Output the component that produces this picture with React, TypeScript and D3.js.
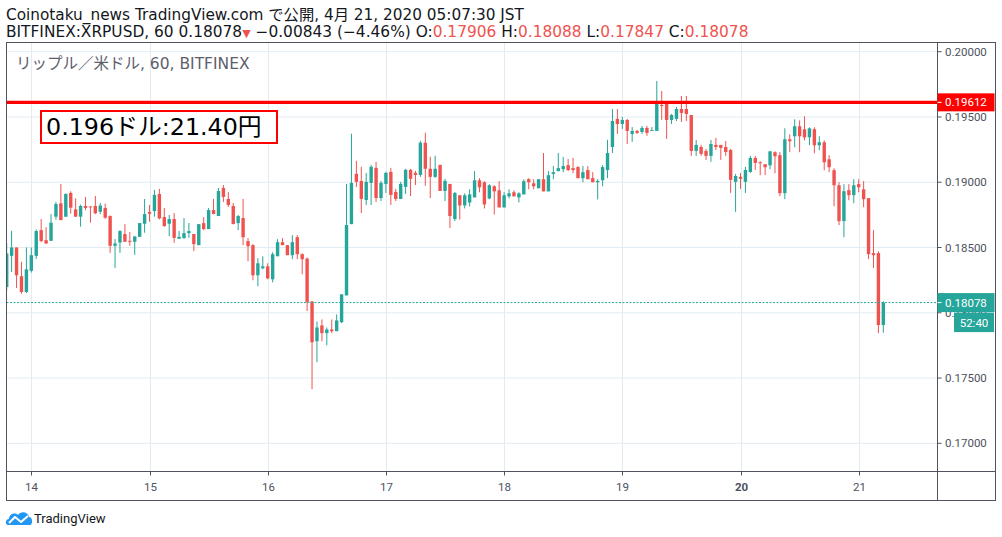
import * as d3 from "d3";

// hourly candles, first one at 2020-04-13 19:00, last at 04-21 05:00
const START = Date.UTC(2020, 3, 13, 19);
// [open, high, low, close]
const CANDLES: [number, number, number, number][] = [
  [0.18197, 0.18533, 0.18167, 0.18454], [0.18436, 0.18628, 0.18313, 0.185], [0.185, 0.185, 0.1819, 0.18287],
  [0.1828, 0.1839, 0.18146, 0.18159], [0.18159, 0.185, 0.18151, 0.18333], [0.18321, 0.185, 0.18308, 0.18441],
  [0.18436, 0.18638, 0.18413, 0.18626], [0.18633, 0.18718, 0.18541, 0.18549], [0.18556, 0.18656, 0.18526, 0.18531],
  [0.18551, 0.18756, 0.18551, 0.1869], [0.18736, 0.18849, 0.18713, 0.18833], [0.18838, 0.18987, 0.1871, 0.1871],
  [0.18736, 0.18915, 0.18736, 0.1891], [0.18918, 0.18931, 0.18759, 0.18805], [0.18792, 0.18877, 0.18736, 0.18736],
  [0.18736, 0.18828, 0.18659, 0.18818], [0.18818, 0.18887, 0.18787, 0.18803], [0.18815, 0.18815, 0.1869, 0.1881],
  [0.18818, 0.18895, 0.18756, 0.18762], [0.18774, 0.18841, 0.18756, 0.18821], [0.18803, 0.18836, 0.1872, 0.18728],
  [0.18741, 0.18746, 0.18459, 0.18513], [0.18513, 0.18564, 0.18344, 0.18531], [0.18538, 0.18633, 0.18459, 0.18626],
  [0.18603, 0.18679, 0.18544, 0.18544], [0.18551, 0.18618, 0.18513, 0.18544], [0.18544, 0.18585, 0.18444, 0.18585],
  [0.18582, 0.18687, 0.18582, 0.18687], [0.18682, 0.18872, 0.18613, 0.18756], [0.18772, 0.18826, 0.18697, 0.18759],
  [0.18779, 0.18941, 0.18736, 0.18903], [0.1891, 0.18949, 0.18715, 0.18723], [0.18733, 0.18803, 0.18659, 0.18664],
  [0.18682, 0.18749, 0.18587, 0.18718], [0.18718, 0.18764, 0.18536, 0.18574], [0.18567, 0.18626, 0.18567, 0.18582],
  [0.18572, 0.18726, 0.18567, 0.1861], [0.1861, 0.18687, 0.18574, 0.18626], [0.18603, 0.18603, 0.18472, 0.18526],
  [0.18518, 0.18679, 0.18518, 0.18679], [0.18687, 0.18733, 0.18633, 0.18641], [0.18641, 0.18803, 0.18641, 0.18787],
  [0.18787, 0.18872, 0.18756, 0.18756], [0.18741, 0.18956, 0.18741, 0.18933], [0.18956, 0.18979, 0.18849, 0.18887],
  [0.18872, 0.18926, 0.1881, 0.18826], [0.18818, 0.18841, 0.18679, 0.18679], [0.18687, 0.18749, 0.18633, 0.18741],
  [0.18726, 0.18872, 0.18518, 0.18579], [0.18549, 0.18572, 0.18395, 0.1851], [0.18518, 0.18526, 0.18249, 0.18287],
  [0.18287, 0.18418, 0.18203, 0.18379], [0.18341, 0.18433, 0.18333, 0.18356], [0.18356, 0.18379, 0.18256, 0.18264],
  [0.18256, 0.18464, 0.18233, 0.18449], [0.18433, 0.18564, 0.18433, 0.18541], [0.18541, 0.18572, 0.18518, 0.18518],
  [0.18518, 0.18518, 0.18441, 0.18441], [0.18441, 0.18595, 0.1841, 0.18541], [0.18579, 0.18595, 0.1841, 0.18449],
  [0.18449, 0.18456, 0.18295, 0.1841], [0.18415, 0.18423, 0.18013, 0.18082], [0.18087, 0.18087, 0.17415, 0.17774],
  [0.17782, 0.17933, 0.17621, 0.17887], [0.17903, 0.17949, 0.17782, 0.17844], [0.17844, 0.17887, 0.17751, 0.17872],
  [0.17872, 0.17949, 0.17844, 0.17859], [0.17859, 0.17987, 0.17859, 0.17941], [0.17928, 0.18141, 0.17921, 0.18141],
  [0.18133, 0.18987, 0.18133, 0.18672], [0.18679, 0.19372, 0.18679, 0.18995], [0.19064, 0.19164, 0.18964, 0.19003],
  [0.1901, 0.19118, 0.18764, 0.18872], [0.18864, 0.19072, 0.18826, 0.19003], [0.18995, 0.19133, 0.18826, 0.19118],
  [0.1911, 0.19156, 0.18849, 0.18879], [0.18879, 0.1901, 0.18856, 0.18995], [0.18987, 0.19079, 0.18918, 0.19072],
  [0.19079, 0.1911, 0.18826, 0.18903], [0.18926, 0.18949, 0.18856, 0.18872], [0.18872, 0.19003, 0.18872, 0.18987],
  [0.18964, 0.19102, 0.1891, 0.19095], [0.19095, 0.19102, 0.18895, 0.19026], [0.19072, 0.19087, 0.18979, 0.19056],
  [0.19056, 0.19318, 0.19041, 0.19303], [0.19303, 0.19379, 0.18972, 0.19103], [0.19103, 0.19195, 0.18879, 0.19041],
  [0.19041, 0.19203, 0.19033, 0.19103], [0.19133, 0.19133, 0.18933, 0.18933], [0.18933, 0.19026, 0.18856, 0.1901],
  [0.18987, 0.18987, 0.18649, 0.18741], [0.18718, 0.18926, 0.18703, 0.18918], [0.189, 0.189, 0.18714, 0.18822],
  [0.18822, 0.18915, 0.18799, 0.189], [0.18845, 0.18946, 0.18814, 0.18907], [0.18884, 0.19085, 0.18884, 0.19015],
  [0.19015, 0.19031, 0.18923, 0.18961], [0.19, 0.19008, 0.18799, 0.1883], [0.18876, 0.18985, 0.18869, 0.18977],
  [0.18969, 0.18977, 0.18753, 0.1893], [0.18938, 0.19008, 0.18807, 0.18807], [0.18807, 0.18923, 0.18807, 0.189],
  [0.18892, 0.18946, 0.18876, 0.18915], [0.18923, 0.18938, 0.18892, 0.18892], [0.18884, 0.18923, 0.18845, 0.18915],
  [0.18907, 0.19023, 0.18907, 0.19008], [0.19023, 0.19031, 0.18946, 0.19], [0.18992, 0.19023, 0.18946, 0.18969],
  [0.18954, 0.19023, 0.18954, 0.19023], [0.19023, 0.19224, 0.1893, 0.1893], [0.1893, 0.19085, 0.1893, 0.19054],
  [0.19064, 0.19124, 0.19023, 0.19077], [0.19085, 0.19224, 0.19085, 0.19108], [0.191, 0.19193, 0.19077, 0.19124],
  [0.19131, 0.19178, 0.19085, 0.19093], [0.19108, 0.19186, 0.1907, 0.19093], [0.19116, 0.19124, 0.19031, 0.19031],
  [0.19031, 0.19124, 0.19, 0.19077], [0.19093, 0.19124, 0.19023, 0.19023], [0.19031, 0.19077, 0.19, 0.19],
  [0.19, 0.19023, 0.18869, 0.1901], [0.19015, 0.19131, 0.18969, 0.19116], [0.19093, 0.19325, 0.19031, 0.19224],
  [0.1927, 0.19561, 0.19224, 0.19469], [0.19485, 0.19561, 0.1937, 0.19446], [0.19446, 0.195, 0.19408, 0.19477],
  [0.19477, 0.19485, 0.19293, 0.19393], [0.1937, 0.19423, 0.19309, 0.19393], [0.19393, 0.19401, 0.1937, 0.19378],
  [0.19385, 0.19431, 0.1937, 0.19416], [0.19416, 0.19431, 0.19355, 0.19378], [0.19393, 0.19423, 0.19393, 0.194],
  [0.19393, 0.19776, 0.19393, 0.196], [0.19592, 0.19699, 0.19477, 0.19584], [0.196, 0.196, 0.19332, 0.19477],
  [0.19477, 0.19523, 0.19446, 0.19515], [0.19485, 0.19577, 0.19469, 0.19561], [0.19561, 0.19661, 0.19462, 0.19531],
  [0.19561, 0.19661, 0.19469, 0.19523], [0.19515, 0.19515, 0.19202, 0.1924], [0.1924, 0.19324, 0.19202, 0.19286],
  [0.1927, 0.19286, 0.19202, 0.19217], [0.1924, 0.19255, 0.19171, 0.19202], [0.19202, 0.19324, 0.19156, 0.19293],
  [0.19286, 0.19339, 0.19247, 0.1927], [0.19286, 0.19286, 0.19171, 0.19263], [0.1927, 0.19316, 0.19202, 0.19232],
  [0.19247, 0.19255, 0.18918, 0.19018], [0.19003, 0.19064, 0.18773, 0.19048], [0.19041, 0.19071, 0.18949, 0.19026],
  [0.19003, 0.19117, 0.18918, 0.19094], [0.19079, 0.19202, 0.19071, 0.19186], [0.19186, 0.19202, 0.19094, 0.19148],
  [0.19153, 0.19161, 0.19054, 0.19145], [0.19138, 0.19138, 0.19054, 0.19115], [0.1913, 0.19237, 0.19099, 0.19237],
  [0.1923, 0.19237, 0.19069, 0.19199], [0.19207, 0.1923, 0.18893, 0.18916], [0.18916, 0.19413, 0.1887, 0.19329],
  [0.19329, 0.19367, 0.1923, 0.19314], [0.19352, 0.19482, 0.19268, 0.19429], [0.19429, 0.19474, 0.1923, 0.19352],
  [0.19406, 0.19505, 0.19321, 0.19344], [0.19344, 0.19421, 0.19283, 0.19413], [0.19406, 0.19421, 0.19222, 0.19283],
  [0.19283, 0.19352, 0.19245, 0.19306], [0.19306, 0.19321, 0.19092, 0.19153], [0.19176, 0.19207, 0.19077, 0.19115],
  [0.19092, 0.19107, 0.18816, 0.18977], [0.18977, 0.19, 0.18671, 0.18702], [0.18702, 0.18985, 0.18579, 0.18931],
  [0.18939, 0.18985, 0.18862, 0.18901], [0.18901, 0.19023, 0.18839, 0.18977], [0.18985, 0.19023, 0.18923, 0.18962],
  [0.18946, 0.19008, 0.18809, 0.1887], [0.18878, 0.18878, 0.18411, 0.18449], [0.18457, 0.18633, 0.18342, 0.18441],
  [0.18457, 0.18472, 0.17844, 0.17906], [0.17906, 0.18088, 0.17847, 0.18078],
];

const PRICE_TICKS = [0.17, 0.175, 0.18, 0.185, 0.19, 0.195, 0.2];
const DAYS = [14, 15, 16, 17, 18, 19, 20, 21];
const LINE_PRICE = 0.19612;
const LAST_PRICE = 0.18078;
const COUNTDOWN = "52:40";
const NOTE = "0.196ドル:21.40円";

const UP = "#26a69a";
const DOWN = "#ef5350";
const GRID = "#e1ecf2";
const FRAME = "#50535e";
const TXT = "#4c525e";
const HOUR = 3600 * 1000;

const L = 6.5, R = 937.5, T = 42.5, B = 471.5, RIGHT_EDGE = 995.5, BOTTOM = 500.5;
const AX_FONT = "Roboto, 'Liberation Sans', sans-serif";
const HEAD_FONT = "'DejaVu Sans', 'Noto Sans CJK JP', sans-serif";

export default function App() {
  const x = d3.scaleUtc().domain([START, START + 189 * HOUR]).range([6.7, 937.5]);
  const y = d3.scaleLinear().domain([0.17, 0.2]).range([443.3, 51.7]);
  const fmt = d3.format(".5f");
  const bw = 3.4;

  return (
    <svg width={1002} height={537} style={{ position: "absolute", left: 0, top: 0, background: "#fff" }}>
      <defs>
        <clipPath id="plot">
          <rect x={L} y={T} width={R - L} height={B - T} />
        </clipPath>
      </defs>

      {/* header */}
      <text x={6} y={20} fontFamily={HEAD_FONT} fontSize={15.3} fill="#131722">
        Coinotaku_news TradingView.com で公開, 4月 21, 2020 05:07:30 JST
      </text>
      <text x={6} y={36.5} fontFamily={HEAD_FONT} fontSize={15.4} fill="#131722">
        BITFINEX:XRPUSD, 60 0.18078<tspan fill={DOWN} fontSize={11}>▼</tspan> −0.00843 (−4.46%) O:
        <tspan fill={DOWN}>0.17906</tspan> H:<tspan fill={DOWN}>0.18088</tspan> L:
        <tspan fill={DOWN}>0.17847</tspan> C:<tspan fill={DOWN}>0.18078</tspan>
      </text>

      {/* grid */}
      <g clipPath="url(#plot)">
        {PRICE_TICKS.map(p => (
          <line key={p} x1={L} x2={R} y1={y(p)} y2={y(p)} stroke={GRID} />
        ))}
        {DAYS.map(d => {
          const xx = Math.round(x(Date.UTC(2020, 3, d))) + 0.5;
          return <line key={d} x1={xx} x2={xx} y1={T} y2={B} stroke={GRID} />;
        })}
      </g>

      <text x={16} y={68.5} fontFamily={HEAD_FONT} fontSize={15.5} fill="#5d606b">
        リップル／米ドル, 60, BITFINEX
      </text>

      {/* candles */}
      <g clipPath="url(#plot)">
        {CANDLES.map(([o, h, l, c], i) => {
          const cx = x(START + i * HOUR);
          const col = c >= o ? UP : DOWN;
          const top = y(Math.max(o, c));
          const bot = y(Math.min(o, c));
          return (
            <g key={i}>
              <line x1={cx} x2={cx} y1={y(h)} y2={y(l)} stroke={col} strokeWidth={1} />
              <rect x={cx - bw / 2} y={top} width={bw} height={Math.max(1, bot - top)} fill={col} />
            </g>
          );
        })}
        <line x1={L} x2={R} y1={y(LAST_PRICE)} y2={y(LAST_PRICE)} stroke={UP} strokeDasharray="2,1.5" />
        <line x1={L} x2={R} y1={y(LINE_PRICE)} y2={y(LINE_PRICE)} stroke="#ff0000" strokeWidth={3.2} />
      </g>

      {/* annotation */}
      <rect x={41} y={111} width={236} height={32} fill="#fff" stroke="#ff0000" strokeWidth={2} />
      <text x={46} y={135} fontFamily={HEAD_FONT} fontSize={23.8} fill="#000">{NOTE}</text>

      {/* frame */}
      <g stroke={FRAME} fill="none" strokeWidth={1}>
        <rect x={L} y={T} width={RIGHT_EDGE - L} height={BOTTOM - T} />
        <line x1={R} x2={R} y1={T} y2={BOTTOM} />
        <line x1={L} x2={RIGHT_EDGE} y1={B} y2={B} />
      </g>

      {/* price axis */}
      {PRICE_TICKS.map(p => (
        <g key={p} transform={`translate(0,${y(p)})`}>
          <line x1={R} x2={R + 4} stroke={FRAME} />
          <text x={945} dy="0.36em" fontFamily={AX_FONT} fontSize={11.5} fill={TXT}>{fmt(p)}</text>
        </g>
      ))}
      <g transform={`translate(0,${y(LINE_PRICE)})`}>
        <rect x={R} y={-9} width={57} height={18} fill="#ff0000" />
        <line x1={R} x2={R + 4} stroke="#fff" />
        <text x={945} dy="0.36em" fontFamily={AX_FONT} fontSize={11.5} fill="#fff">{fmt(LINE_PRICE)}</text>
      </g>
      <g transform={`translate(0,${y(LAST_PRICE)})`}>
        <rect x={R} y={-9.5} width={57} height={19} fill={UP} />
        <line x1={R} x2={R + 4} stroke="#fff" />
        <text x={945} dy="0.36em" fontFamily={AX_FONT} fontSize={11.5} fill="#fff">{fmt(LAST_PRICE)}</text>
        <rect x={954} y={10} width={40} height={19.5} fill={UP} />
        <text x={974} y={20} dy="0.36em" textAnchor="middle" fontFamily={AX_FONT} fontSize={11.5} fill="#fff">{COUNTDOWN}</text>
      </g>

      {/* time axis */}
      {DAYS.map(d => {
        const xx = Math.round(x(Date.UTC(2020, 3, d))) + 0.5;
        return (
          <g key={d}>
            <line x1={xx} x2={xx} y1={B} y2={B + 4} stroke={FRAME} />
            <text x={xx} y={491} textAnchor="middle" fontFamily={AX_FONT} fontSize={11.5}
              fontWeight={d === 20 ? "bold" : "normal"} fill={TXT}>{d}</text>
          </g>
        );
      })}

      {/* logo */}
      <g transform="translate(6,511)">
        <path d="M2,14 C-1,14 -1,8 3,8 C3,3 9,1 12,4 C14,0 22,0 23,6 C27,6 27,14 24,14 Z" fill="#2196f3" />
        <polyline points="3,12 9,6 15,11 22,5" fill="none" stroke="#fff" strokeWidth={2} strokeLinejoin="round" />
      </g>
      <text x={34} y={523} fontFamily={AX_FONT} fontSize={13} fill="#131722">TradingView</text>
    </svg>
  );
}
